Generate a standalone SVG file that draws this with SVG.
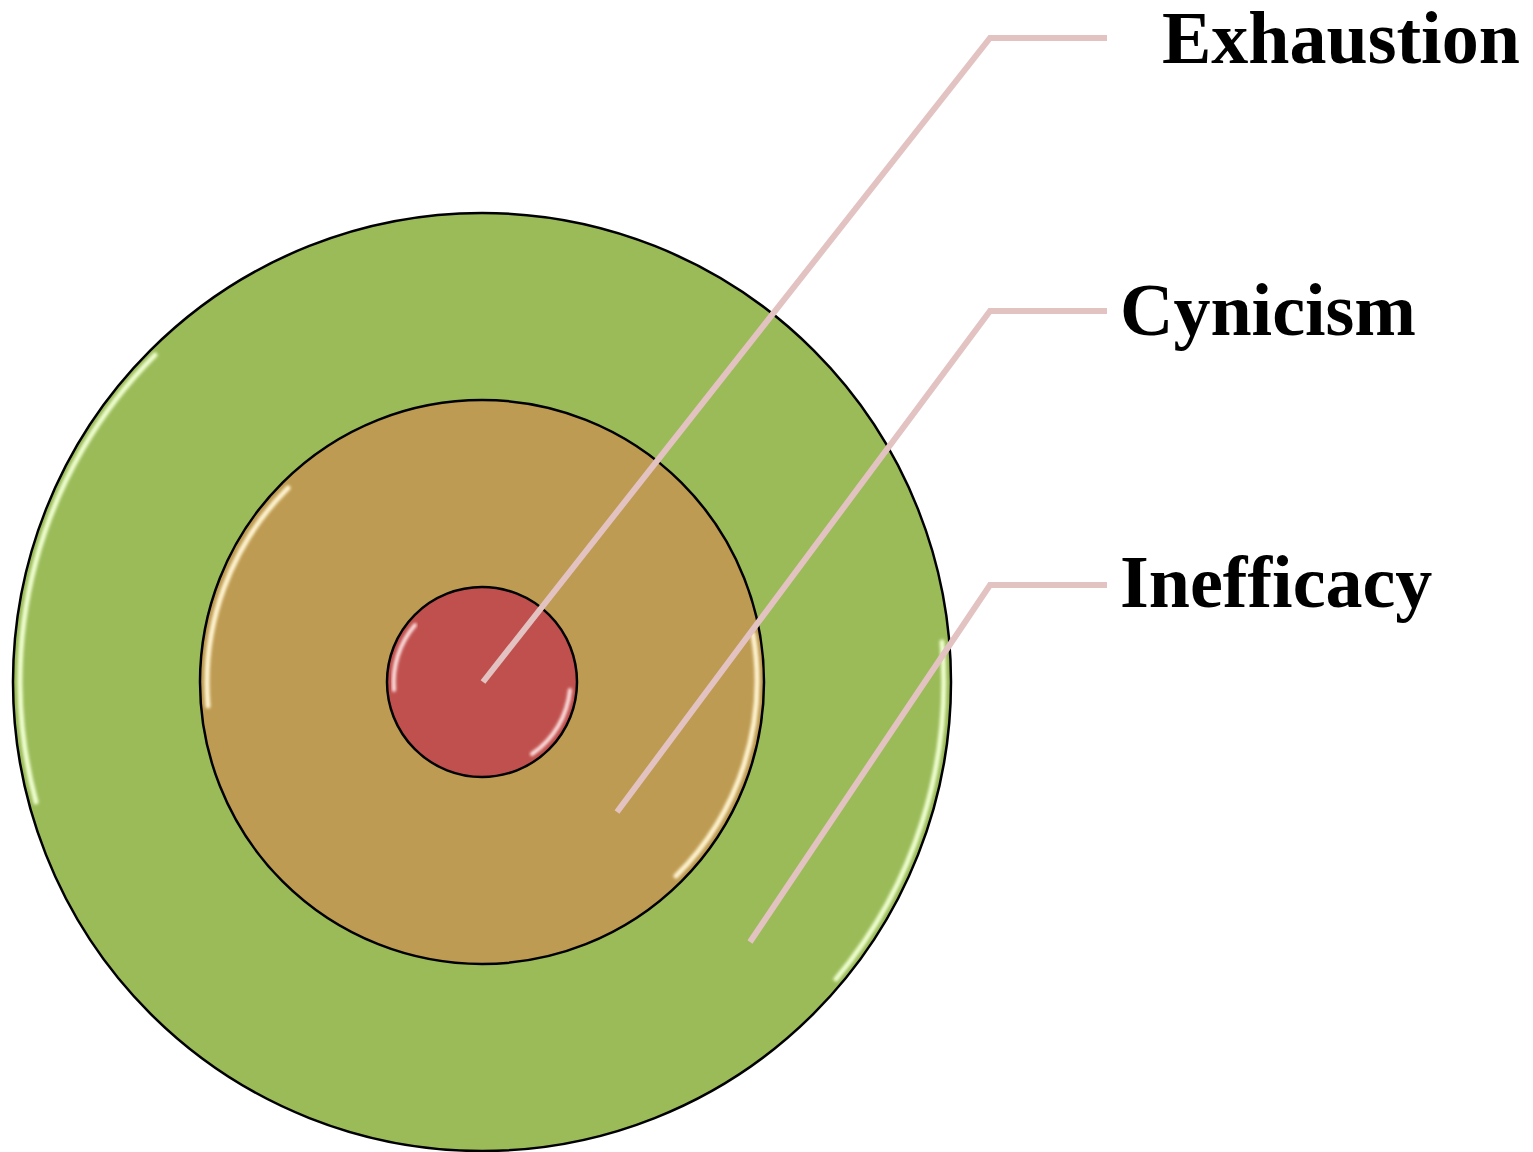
<svg xmlns="http://www.w3.org/2000/svg" width="1533" height="1152" viewBox="0 0 1533 1152">
<defs>
<style>
.ring{stroke:#000;stroke-width:2.5}
.hl{fill:none;stroke-linecap:round;filter:url(#blur)}
.lead{fill:none;stroke:#E3C2C2;stroke-width:6;stroke-linejoin:miter}
.lbl{font-family:"Liberation Serif","Times New Roman",serif;font-weight:bold;font-size:74px;fill:#000}
</style>
<filter id="blur" x="-10%" y="-10%" width="120%" height="120%"><feGaussianBlur stdDeviation="1.5"/></filter>
</defs>
<rect width="1533" height="1152" fill="#fff"/>
<g id="node-inefficacy">
<circle class="ring" cx="482" cy="682" r="469" fill="#9BBB59"/>
<path class="hl" d="M 155 355 A 462 462 0 0 0 36 802" stroke="#EFFFD0" stroke-width="5"/>
<path class="hl" d="M 942 642 A 462 462 0 0 1 836 979" stroke="#EFFFD0" stroke-width="5"/>
</g>
<g id="node-cynicism">
<circle class="ring" cx="482" cy="682" r="282" fill="#BE9B52"/>
<path class="hl" d="M 288 488 A 275 275 0 0 0 208 706" stroke="#FFF4D0" stroke-width="5"/>
<path class="hl" d="M 753 634 A 275 275 0 0 1 676 876" stroke="#FFF4D0" stroke-width="5"/>
</g>
<g id="node-exhaustion">
<circle class="ring" cx="482" cy="682" r="95" fill="#C0504D"/>
<path class="hl" d="M 415 625 A 88 88 0 0 0 394 690" stroke="#FFE4E4" stroke-width="4"/>
<path class="hl" d="M 570 690 A 88 88 0 0 1 532 754" stroke="#FFE4E4" stroke-width="4"/>
</g>
<g id="connectors">
<polyline class="lead" points="483,682 990,38 1107,38"/>
<polyline class="lead" points="617,812 990,311 1107,311"/>
<polyline class="lead" points="750,942 990,585 1107,585"/>
</g>
<g id="labels">
<text class="lbl" x="1162" y="63">Exhaustion</text>
<text class="lbl" x="1120" y="335">Cynicism</text>
<text class="lbl" x="1120" y="607">Inefficacy</text>
</g>
</svg>
